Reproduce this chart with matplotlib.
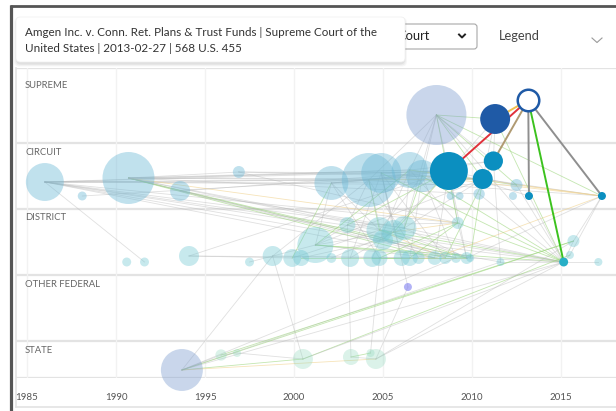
import matplotlib
matplotlib.use("Agg")
import matplotlib.pyplot as plt
from matplotlib.patches import FancyBboxPatch
import numpy as np

plt.rcParams["font.family"] = ["Lato", "DejaVu Sans"]

COURTS = ["SUPREME", "CIRCUIT", "DISTRICT", "OTHER FEDERAL", "STATE"]
YEAR_TICKS = [1985, 1990, 1995, 2000, 2005, 2010, 2015]
TOOLTIP = ["Amgen Inc. v. Conn. Ret. Plans & Trust Funds | Supreme Court of the",
           "United States | 2013-02-27 | 568 U.S. 455"]

# nodes per court: decision year, depth inside the court row, citation count
supreme_year = [2008.0, 2011.3, 2013.16]
supreme_depth = [47, 51, 32]
supreme_cites = [225, 56, 29]

circuit_year = [1986.0, 1988.1, 1990.7, 1993.6, 1996.9, 2002.1, 2004.2, 2004.9, 2006.5, 2007.2,
                2008.7, 2011.2, 2010.6, 2013.2, 2017.3, 2012.5, 2012.3, 2010.4, 2009.3, 2008.8]
circuit_depth = [39, 53, 35, 48, 29, 40, 37, 30, 27, 33,
                 28, 18, 36, 53, 53, 42, 53, 51, 53, 53]
circuit_cites = [90, 5, 169, 25, 9, 72, 182, 100, 81, 64,
                 90, 23, 25, 4, 4, 9, 4, 8, 4, 4]

district_year = [1990.6, 1991.6, 1994.1, 1997.5, 1998.8, 1999.9, 2000.4, 2001.2, 2002.1, 2003.0,
                 2003.15, 2004.4, 2004.8, 2005.0, 2005.6, 2006.2, 2004.8, 2006.05, 2006.5, 2007.0,
                 2007.9, 2008.5, 2009.1, 2009.2, 2009.7, 2009.9, 2011.6, 2015.15, 2015.5, 2015.7,
                 2017.1]
district_depth = [53, 53, 47, 53, 47, 49, 49, 36, 49, 16,
                  49, 49, 21, 31, 23, 19, 49, 49, 49, 49,
                  49, 49, 49, 14, 49, 49, 53, 53, 46, 32,
                  53]
district_cites = [5, 5, 25, 5, 25, 20, 16, 81, 6, 16,
                  20, 20, 42, 25, 36, 36, 16, 16, 16, 9,
                  12, 9, 6, 9, 9, 4, 4, 5, 4, 9,
                  4]

other_year = [2006.4]
other_depth = [12]
other_cites = [4]

state_year = [1993.7, 1995.9, 1996.8, 2000.5, 2003.2, 2004.3, 2004.6]
state_depth = [29, 14, 12, 18, 16, 12, 18]
state_cites = [110, 8, 4, 25, 16, 4, 25]
state_high_court = ["T0"]

selected = "S2"
cited_in_path = ["S1", "C10", "C11", "C12", "C13", "C14", "D27"]

path_edges = [("C10", "S2"), ("S1", "S2"), ("C11", "S2"), ("C13", "S2"), ("C14", "S2"), ("D27", "S2")]
path_kind = ["red", "orange", "tan", "gray", "gray", "green"]

edges = [
    ("C0", "C5", "g"), ("C0", "C6", "g"), ("C0", "C8", "g"), ("C0", "C10", "g"), ("C0", "D12", "g"),
    ("C0", "D15", "g"), ("C0", "D20", "g"), ("C0", "D23", "g"), ("C0", "D26", "g"), ("C0", "D27", "g"),
    ("C0", "D1", "g"), ("C0", "C15", "g"), ("C0", "C12", "g"), ("C1", "C9", "g"),
    ("C2", "C4", "g"), ("C2", "C8", "g"), ("C2", "C10", "g"), ("C2", "C6", "g"), ("C2", "D13", "n"),
    ("C2", "D24", "n"), ("C2", "D20", "n"), ("C2", "D23", "y"), ("C2", "D14", "g"), ("C2", "D22", "g"),
    ("C2", "C12", "g"), ("C2", "D27", "g"), ("C2", "C17", "g"),
    ("C3", "D15", "g"), ("C3", "C10", "g"), ("C3", "D21", "g"),
    ("C4", "C9", "g"), ("C4", "D23", "g"), ("C4", "C7", "g"),
    ("D2", "C10", "g"), ("D2", "D19", "g"), ("D2", "D5", "g"), ("D3", "D7", "g"),
    ("D4", "T0", "g"), ("D4", "T3", "g"), ("D4", "D20", "g"), ("D4", "C6", "g"),
    ("D5", "D12", "g"), ("D5", "C5", "n"), ("D6", "D13", "g"), ("D6", "D24", "n"),
    ("D7", "C5", "g"), ("D7", "C8", "n"), ("D7", "D24", "n"), ("D7", "D20", "g"), ("D7", "D14", "g"),
    ("D7", "C12", "g"), ("D7", "D27", "n"), ("D7", "D9", "g"), ("D8", "D15", "g"),
    ("D9", "C6", "g"), ("D9", "C10", "n"), ("D9", "D23", "g"), ("D9", "D20", "g"),
    ("D10", "D14", "g"), ("D10", "C7", "g"), ("D11", "C8", "g"), ("D11", "D22", "n"),
    ("D12", "C5", "g"), ("D12", "C9", "g"), ("D12", "D24", "n"), ("D12", "D27", "n"), ("D12", "C6", "n"),
    ("D12", "D21", "y"), ("D13", "C6", "g"), ("D13", "D22", "g"), ("D13", "C10", "g"), ("D13", "D27", "g"),
    ("D14", "C7", "g"), ("D14", "C10", "n"), ("D14", "D25", "g"), ("D14", "D23", "y"),
    ("D15", "C8", "g"), ("D15", "C9", "n"), ("D15", "D24", "g"), ("D15", "C12", "g"), ("D15", "D27", "g"),
    ("D16", "C5", "g"), ("D16", "D23", "n"), ("D17", "C7", "g"), ("D17", "D24", "y"),
    ("D18", "C9", "g"), ("D18", "D23", "n"), ("D19", "C6", "g"), ("D20", "C10", "g"), ("D20", "C14", "y"),
    ("D21", "C7", "g"), ("D21", "C11", "n"), ("D22", "C9", "g"),
    ("D23", "C10", "g"), ("D23", "D24", "g"), ("D23", "D27", "n"), ("D23", "C8", "g"),
    ("D24", "C10", "g"), ("D24", "D27", "g"), ("D24", "C14", "g"), ("D25", "C12", "n"),
    ("D26", "C11", "g"), ("D26", "D27", "g"),
    ("D27", "D28", "g"), ("D27", "D29", "g"), ("D27", "D30", "g"), ("D27", "C15", "g"), ("D27", "C13", "g"),
    ("D28", "C14", "g"), ("D29", "C14", "g"),
    ("C5", "C9", "g"), ("C5", "C6", "g"), ("C5", "C10", "g"), ("C5", "C12", "g"),
    ("C6", "C10", "g"), ("C6", "C11", "g"), ("C6", "C12", "y"), ("C6", "C14", "g"),
    ("C7", "C10", "g"), ("C7", "C12", "g"), ("C7", "D27", "n"),
    ("C8", "C11", "g"), ("C8", "C15", "n"), ("C8", "C14", "y"),
    ("C9", "C14", "y"), ("C9", "C12", "g"), ("C9", "D27", "n"),
    ("C10", "C13", "g"), ("C10", "C15", "g"), ("C12", "C14", "g"), ("C15", "C14", "y"), ("C17", "D27", "g"),
    ("S0", "S1", "n"), ("S0", "C10", "g"), ("S0", "C8", "g"), ("S0", "C9", "g"), ("S0", "C12", "n"),
    ("S0", "D15", "g"), ("S0", "D23", "n"), ("S0", "C15", "n"), ("S0", "C14", "n"), ("S0", "D27", "g"),
    ("S0", "C11", "g"), ("S0", "C6", "g"),
    ("S1", "C10", "g"), ("S1", "C12", "g"), ("S1", "C11", "g"), ("S1", "D27", "n"),
    ("O0", "T6", "g"), ("O0", "C7", "g"),
    ("T0", "T3", "n"), ("T0", "T6", "y"), ("T0", "T1", "g"), ("T0", "D22", "g"), ("T0", "D26", "g"),
    ("T0", "D27", "g"), ("T0", "D29", "n"), ("T1", "D29", "n"), ("T1", "T2", "g"), ("T2", "T3", "g"),
    ("T3", "D28", "n"), ("T3", "D27", "g"), ("T4", "D9", "g"), ("T4", "T5", "n"), ("T4", "T6", "g"),
    ("T5", "D16", "g"), ("T6", "D29", "g"), ("T6", "D27", "g"),
]

# layout of the rows (pixel heights of each court band)
band_height = [75, 66, 66, 66, 37]
band_top = np.concatenate([[0], np.cumsum(band_height)])

court_nodes = [
    ("S", supreme_year, supreme_depth, supreme_cites),
    ("C", circuit_year, circuit_depth, circuit_cites),
    ("D", district_year, district_depth, district_cites),
    ("O", other_year, other_depth, other_cites),
    ("T", state_year, state_depth, state_cites),
]

light_color = {"S": ("#7f9fd0", 0.42), "C": ("#6bb8d6", 0.42), "D": ("#6cc6d2", 0.38),
               "O": ("#8080f0", 0.6), "T": ("#8fd8bc", 0.32)}
strong_color = {"S": "#1f5aa6", "C": "#0b8fc0", "D": "#27afc6"}
edge_style = {"g": ("#b5b5b5", 0.42), "n": ("#9cd67c", 0.6), "y": ("#f2d594", 0.65)}
path_color = {"red": "#e0303a", "orange": "#f2c14e", "tan": "#b09a72", "gray": "#8f8f8f", "green": "#3cc21e"}

pos = {}
nodes = []
for band, (prefix, years, depths, cites) in enumerate(court_nodes):
    for i, (yr, d, c) in enumerate(zip(years, depths, cites)):
        nid = f"{prefix}{i}"
        pos[nid] = (yr, band_top[band] + d)
        nodes.append((nid, prefix, yr, band_top[band] + d, c))

fig = plt.figure(figsize=(6.16, 4.11), dpi=100)

# page chrome in pixel coordinates
bg = fig.add_axes([0, 0, 1, 1])
bg.set_xlim(0, 616)
bg.set_ylim(411, 0)
bg.axis("off")
bg.plot([10.5, 10.5], [5, 411], color="#555555", lw=2.3, solid_capstyle="butt")
bg.plot([9.5, 616], [6, 6], color="#555555", lw=2.0, solid_capstyle="butt")
bg.plot([16, 16], [68, 407], color="#e3e3e3", lw=1.2)
bg.plot([16, 616], [407, 407], color="#e3e3e3", lw=1.2)

sel_box = FancyBboxPatch((330, 24), 147, 25, boxstyle="round,pad=0,rounding_size=3",
                         facecolor="white", edgecolor="#a8a8a8", lw=0.8)
bg.add_patch(sel_box)
bg.text(430, 36.5, "Court", fontsize=9.3, color="#222222", ha="right", va="center")
bg.plot([459, 462, 465], [34.5, 37.5, 34.5], color="#222222", lw=1.4)
bg.text(499, 36.5, "Legend", fontsize=9.3, color="#444444", va="center")
bg.plot([592, 597, 602], [38, 42.5, 38], color="#9a9a9a", lw=0.8)

for k, a in enumerate([0.05, 0.04, 0.03]):
    shadow = FancyBboxPatch((16 - k, 18 - k + 1.5), 389 + 2 * k, 45 + 2 * k,
                            boxstyle="round,pad=0,rounding_size=5", facecolor="black",
                            edgecolor="none", alpha=a, zorder=3)
    bg.add_patch(shadow)
tip = FancyBboxPatch((16, 17), 389, 45, boxstyle="round,pad=0,rounding_size=4",
                     facecolor="white", edgecolor="#eeeeee", lw=0.5, zorder=4)
bg.add_patch(tip)
bg.text(25, 33, TOOLTIP[0], fontsize=8.4, color="#333333", va="center", zorder=5)
bg.text(25, 48, TOOLTIP[1], fontsize=8.4, color="#333333", va="center", zorder=5)

# citation network
ax = fig.add_axes([16 / 616, (411 - 378) / 411, 600 / 616, 310 / 411])
ax.set_facecolor("none")
ax.set_xlim(1984.38, 2018.09)
ax.set_ylim(band_top[-1], 0)
for s in ax.spines.values():
    s.set_visible(False)
ax.set_yticks([])
ax.set_xticks(YEAR_TICKS)
ax.tick_params(axis="x", length=0, pad=10.5, labelsize=7, labelcolor="#555555")
ax.grid(axis="x", color="#f2f2f2", lw=1)
ax.set_axisbelow(True)
for yb in band_top:
    ax.axhline(yb, color="#e3e3e3", lw=1.6, zorder=0.5)

label_y = [86, 152, 217, 284, 350]
for name, ly in zip(COURTS, label_y):
    ax.text(25, ly, name, fontsize=6.8, color="#666666", va="center",
            transform=bg.transData, zorder=6, clip_on=False)

for a, b, kind in edges:
    col, al = edge_style[kind]
    (x1, y1), (x2, y2) = pos[a], pos[b]
    ax.plot([x1, x2], [y1, y2], color=col, alpha=al, lw=0.6, zorder=1)

for (a, b), kind in zip(path_edges, path_kind):
    (x1, y1), (x2, y2) = pos[a], pos[b]
    ax.plot([x1, x2], [y1, y2], color=path_color[kind], lw=1.4, zorder=3)

for nid, prefix, yr, yv, c in nodes:
    size = (1.44 * 2 * np.sqrt(c)) ** 2
    if nid == selected:
        ax.scatter(yr, yv, s=size, facecolor="white", edgecolor=strong_color[prefix],
                   linewidths=1.8, zorder=5, clip_on=False)
    elif nid in cited_in_path:
        ax.scatter(yr, yv, s=size, color=strong_color[prefix], edgecolor="none", zorder=4, clip_on=False)
    else:
        key = "S" if nid in state_high_court else prefix
        col, al = light_color[key]
        ax.scatter(yr, yv, s=size, color=col, alpha=al, edgecolor="none", zorder=2, clip_on=False)

fig.savefig("out.png", dpi=100)
